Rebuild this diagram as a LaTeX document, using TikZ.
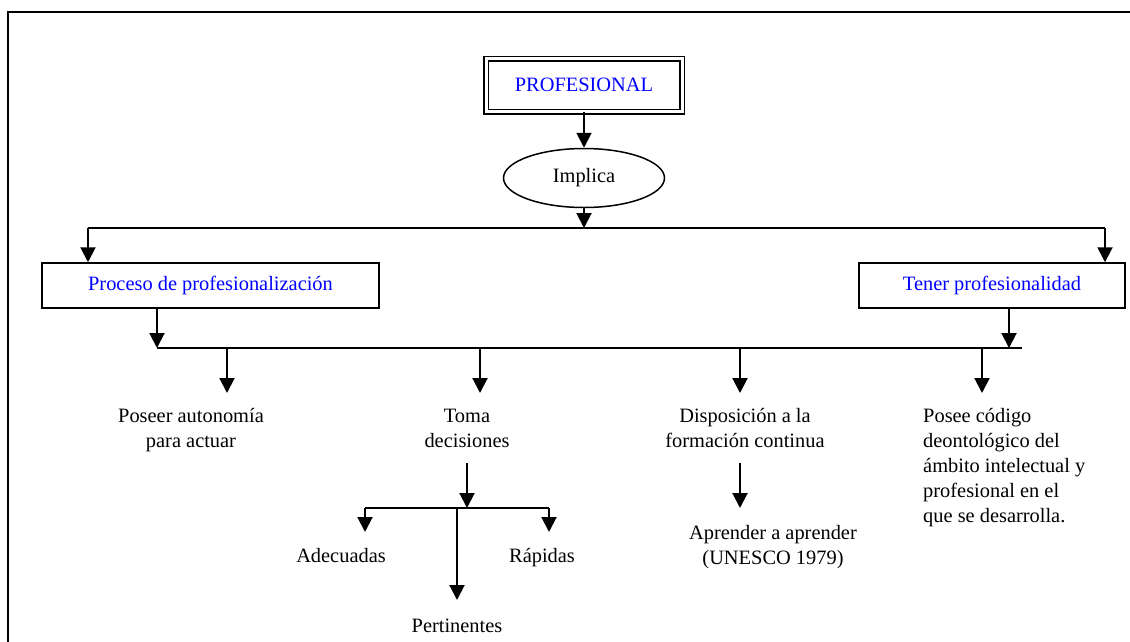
\documentclass[tikz,border=0pt]{standalone}
\usepackage{fontspec}
\setmainfont{Liberation Serif}
\usetikzlibrary{arrows.meta,shapes.geometric}
\begin{document}
\begin{tikzpicture}[x=1pt,y=-1pt,
  every node/.style={font=\fontsize{20.4}{25}\selectfont},
  box/.style={draw,line width=1.5pt,text=blue,minimum height=45pt,inner sep=0pt},
  lbl/.style={align=center,inner sep=0pt,anchor=base},
  arr/.style={line width=2pt,-{Triangle[width=15pt,length=15pt]}},
  bar/.style={line width=1.3pt}]
\useasboundingbox (0,0) rectangle (1130,641);
% page frame
\draw[line width=1.8pt] (8,700) -- (8,12) -- (1200,12);

% top of the hierarchy
\node[box,double,double distance=3pt,minimum width=196pt,minimum height=53pt] (prof) at (584,85) {PROFESIONAL};
\node[draw,ellipse,line width=1.5pt,minimum width=161pt,minimum height=59pt,inner sep=0pt] (impl) at (584,178) {Implica};
\draw[arr] (prof.south) -- (impl.north);

% split into the two branches
\coordinate (j0) at (584,228);
\coordinate (jl) at (88,228);
\coordinate (jr) at (1105,228);
\draw[arr] (impl.south) -- (j0);
\draw[bar] (jl) -- (jr);

\node[box,minimum width=337pt] (proc) at (210.5,285.5) {Proceso de profesionalización};
\node[box,minimum width=266pt] (tener) at (992,285.5) {Tener profesionalidad};
\draw[arr] (jl) -- (jl |- proc.north);
\draw[arr] (jr) -- (jr |- tener.north);

% common bar below both branches
\coordinate (kl) at (157,348);
\coordinate (kr) at (1022,348);
\coordinate (kt) at (1009,348);
\draw[arr] (kl |- proc.south) -- (kl);
\draw[arr] (kt |- tener.south) -- (kt);
\draw[bar] (kl) -- (kr);

\coordinate (k1) at (227,348);
\coordinate (k2) at (480,348);
\coordinate (k3) at (740,348);
\coordinate (k4) at (982,348);
\coordinate (e1) at (227,393);
\coordinate (e2) at (480,393);
\coordinate (e3) at (740,393);
\coordinate (e4) at (982,393);
\draw[arr] (k1) -- (e1);
\draw[arr] (k2) -- (e2);
\draw[arr] (k3) -- (e3);
\draw[arr] (k4) -- (e4);

% multi-line labels are placed by the baseline of their last line
\node[lbl] (auto) at (191,447) {Poseer autonomía\\para actuar};
\node[lbl] (toma) at (467,447) {Toma\\decisiones};
\node[lbl] (disp) at (745,447) {Disposición a la\\formación continua};
\node[lbl,align=left,anchor=base west] (cod) at (923,522) {Posee código\\deontológico del\\ámbito intelectual y\\profesional en el\\que se desarrolla.};

% kinds of decisions
\coordinate (t0) at (467,463);
\coordinate (t1) at (467,508);
\coordinate (tl) at (365,508);
\coordinate (tr) at (549,508);
\coordinate (tm) at (457,508);
\draw[arr] (t0) -- (t1);
\draw[bar] (tl) -- (tr);
\node[lbl] (adec) at (341,562) {Adecuadas};
\node[lbl] (rapi) at (542,562) {Rápidas};
\node[lbl] (pert) at (457,632) {Pertinentes};
\draw[arr] (tl) -- (tl |- 0,532);
\draw[arr] (tr) -- (tr |- 0,532);
\draw[arr] (tm) -- (tm |- 0,600);

% continuous training
\coordinate (d0) at (740,463);
\coordinate (d1) at (740,508);
\draw[arr] (d0) -- (d1);
\node[lbl] (apre) at (773,564) {Aprender a aprender\\(UNESCO 1979)};
\end{tikzpicture}
\end{document}
